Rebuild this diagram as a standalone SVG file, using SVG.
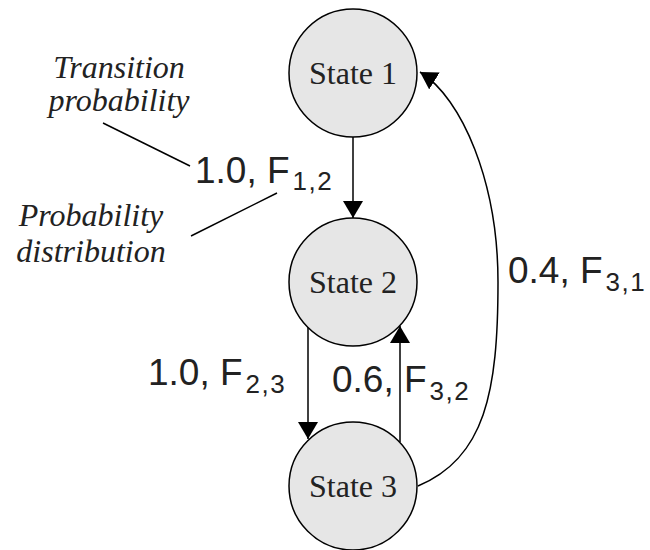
<svg xmlns="http://www.w3.org/2000/svg" width="650" height="550" viewBox="0 0 650 550">
<defs>
<style>
.node circle{fill:#e6e6e6;stroke:#000;stroke-width:1.5}
.node text{font-family:"Liberation Serif","Times New Roman",serif;font-size:32px;fill:#222;text-anchor:middle}
.edge{fill:none;stroke:#000;stroke-width:1.5}
.lbl{font-family:"Liberation Sans",Arial,sans-serif;font-size:37px;fill:#222}
.sub{font-size:26px;letter-spacing:1.5px}
.note{font-family:"Liberation Serif","Times New Roman",serif;font-style:italic;font-size:32px;fill:#222;text-anchor:middle}
.lead{stroke:#000;stroke-width:1.5}
</style>
<marker id="arr" markerUnits="userSpaceOnUse" markerWidth="18" markerHeight="20" refX="17" refY="10" orient="auto" viewBox="0 0 18 20">
<path d="M0,0 L17,10 L0,20 Z" fill="#000"/>
</marker>
</defs>
<g id="connectors">
<line class="edge" x1="353" y1="137" x2="353" y2="218" marker-end="url(#arr)"/>
<line class="edge" x1="308" y1="327" x2="308" y2="439" marker-end="url(#arr)"/>
<line class="edge" x1="400" y1="442" x2="400" y2="326" marker-end="url(#arr)"/>
<path class="edge" d="M418,486 C485,458 498,392 498,282 C498,182 462,98 420,72" marker-end="url(#arr)"/>
</g>
<g id="state1" class="node"><circle cx="353" cy="73" r="64"/><text x="353" y="84">State 1</text></g>
<g id="state2" class="node"><circle cx="353" cy="282" r="64"/><text x="353" y="293">State 2</text></g>
<g id="state3" class="node"><circle cx="353" cy="486" r="64"/><text x="353" y="497">State 3</text></g>
<g id="labels">
<text class="lbl" x="195" y="183">1.0, F<tspan class="sub" dx="3" dy="7">1,2</tspan></text>
<text class="lbl" x="148" y="385">1.0, F<tspan class="sub" dx="3" dy="8">2,3</tspan></text>
<text class="lbl" x="332" y="392">0.6, F<tspan class="sub" dx="3" dy="8">3,2</tspan></text>
<text class="lbl" x="508" y="283">0.4, F<tspan class="sub" dx="3" dy="8">3,1</tspan></text>
</g>
<g id="notes">
<text class="note" x="119" y="78">Transition</text>
<text class="note" x="119" y="111">probability</text>
<text class="note" x="91" y="226">Probability</text>
<text class="note" x="91" y="262">distribution</text>
<line class="lead" x1="103" y1="123" x2="190" y2="166"/>
<line class="lead" x1="277" y1="193" x2="191" y2="236"/>
</g>
</svg>
